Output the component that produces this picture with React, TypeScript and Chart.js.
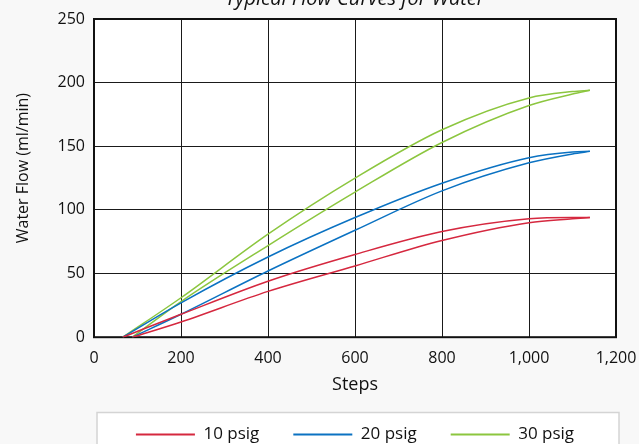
import React, { useEffect, useRef } from "react";
import { Chart, registerables } from "chart.js";

Chart.register(...registerables);

const upperSteps = [66, 200, 400, 600, 800, 1000, 1100, 1140];
const lowerSteps = [88, 200, 400, 600, 800, 1000, 1100, 1140];

const psig10Up = [0, 18, 44, 65, 83, 93, 94, 94];
const psig10Down = [0, 12, 36, 56, 76, 90, 93, 94];
const psig20Up = [0, 27, 63, 94, 121, 141, 145.5, 146];
const psig20Down = [0, 18, 52, 84, 115, 137, 144, 146];
const psig30Up = [0, 31, 81, 125, 163, 188, 193, 194];
const psig30Down = [0, 28, 72, 114, 153, 182, 191, 194];

const seriesLabels = ["10 psig", "20 psig", "30 psig"];
const seriesColors = ["#d5283f", "#0b72c2", "#8cc63f"];

const xTicks = [0, 200, 400, 600, 800, 1000, 1200];
const yTicks = [0, 50, 100, 150, 200, 250];

const chartTitle = "Typical Flow Curves for Water";
const xTitle = "Steps";
const yTitle = "Water Flow (ml/min)";

const FONT = "'Open Sans', 'Noto Sans', sans-serif";

function pts(xs: number[], ys: number[]) {
  return xs.map((x, i) => ({ x, y: ys[i] }));
}

export default function App() {
  const ref = useRef<HTMLCanvasElement | null>(null);
  useEffect(() => {
    if (!ref.current) return;
    const pairs = [
      [psig10Up, psig10Down],
      [psig20Up, psig20Down],
      [psig30Up, psig30Down],
    ];
    const datasets: any[] = [];
    pairs.forEach((p, i) => {
      datasets.push({
        label: seriesLabels[i],
        data: pts(upperSteps, p[0]),
        borderColor: seriesColors[i],
        backgroundColor: seriesColors[i],
        borderWidth: 1.5,
        pointRadius: 0,
        cubicInterpolationMode: "monotone",
        fill: false,
      });
      datasets.push({
        label: seriesLabels[i] + " (return)",
        data: pts(lowerSteps, p[1]),
        borderColor: seriesColors[i],
        backgroundColor: seriesColors[i],
        borderWidth: 1.5,
        pointRadius: 0,
        cubicInterpolationMode: "monotone",
        fill: false,
      });
    });

    const deco = {
      id: "deco",
      beforeDraw(chart: any) {
        const { ctx, chartArea } = chart;
        ctx.save();
        ctx.fillStyle = "#ffffff";
        ctx.fillRect(chartArea.left, chartArea.top, chartArea.right - chartArea.left, chartArea.bottom - chartArea.top);
        const lg = chart.legend;
        if (lg) {
          const top = lg.top + 20.5;
          ctx.fillStyle = "#ffffff";
          ctx.strokeStyle = "#d4d4d4";
          ctx.lineWidth = 1.5;
          ctx.fillRect(chartArea.left + 3, top, chartArea.right - chartArea.left, 80);
          ctx.strokeRect(chartArea.left + 3, top, chartArea.right - chartArea.left, 80);
        }
        ctx.fillStyle = "#111";
        ctx.font = "italic 20px " + FONT;
        ctx.textAlign = "center";
        ctx.textBaseline = "alphabetic";
        ctx.fillText(chartTitle, (chartArea.left + chartArea.right) / 2, 5);
        // y-axis title, placed slightly above the plot's centre as in the reference
        ctx.translate(23, (chartArea.top + chartArea.bottom) / 2 - 10);
        ctx.rotate(-Math.PI / 2);
        ctx.font = "16px " + FONT;
        ctx.textBaseline = "middle";
        ctx.fillText(yTitle, 0, 0);
        ctx.restore();
      },
      beforeDatasetsDraw(chart: any) {
        const { ctx, chartArea } = chart;
        ctx.save();
        ctx.strokeStyle = "#111";
        ctx.lineWidth = 2;
        ctx.strokeRect(chartArea.left, chartArea.top, chartArea.right - chartArea.left, chartArea.bottom - chartArea.top);
        ctx.restore();
      },
    };

    const chart = new Chart(ref.current, {
      type: "line",
      data: { datasets },
      options: {
        animation: false,
        responsive: false,
        layout: { padding: { left: 48, right: 23, top: 19, bottom: 0 } },
        scales: {
          x: {
            type: "linear",
            min: 0,
            max: 1200,
            afterBuildTicks: (s: any) => {
              s.ticks = xTicks.map((v) => ({ value: v }));
            },
            afterFit: (s: any) => {
              s.paddingLeft = 0;
              s.paddingRight = 0;
            },
            grid: { color: "#1a1a1a", lineWidth: 1, drawTicks: false },
            border: { display: false },
            ticks: { padding: 12, color: "#111", font: { family: FONT, size: 16 } },
            title: {
              display: true,
              text: xTitle,
              color: "#111",
              font: { family: FONT, size: 18 },
              padding: { top: -6, bottom: -4 },
            },
          },
          y: {
            type: "linear",
            min: 0,
            max: 250,
            afterBuildTicks: (s: any) => {
              s.ticks = yTicks.map((v) => ({ value: v }));
            },
            afterFit: (s: any) => {
              s.width = 46;
            },
            grid: { color: "#1a1a1a", lineWidth: 1, drawTicks: false },
            border: { display: false },
            ticks: { padding: 9, color: "#111", font: { family: FONT, size: 16 } },
            title: { display: false },
          },
        },
        plugins: {
          title: { display: false },
          tooltip: { enabled: false },
          legend: {
            display: true,
            position: "bottom",
            fullSize: false,
            labels: {
              boxWidth: 59,
              boxHeight: 2,
              padding: 34,
              color: "#111",
              font: { family: FONT, size: 17 },
              filter: (item: any) => item.datasetIndex % 2 === 0,
              generateLabels: (c: any) => {
                const base = Chart.defaults.plugins.legend.labels.generateLabels(c);
                return base.map((b: any) => ({ ...b, lineWidth: 0 }));
              },
            },
          },
        },
      } as any,
      plugins: [deco],
    });
    return () => chart.destroy();
  }, []);

  return (
    <div style={{ position: "fixed", left: 0, top: 0, width: 639, height: 444, background: "#f8f8f8", overflow: "hidden" }}>
      <canvas ref={ref} width={639} height={453} style={{ display: "block" }} />
    </div>
  );
}
